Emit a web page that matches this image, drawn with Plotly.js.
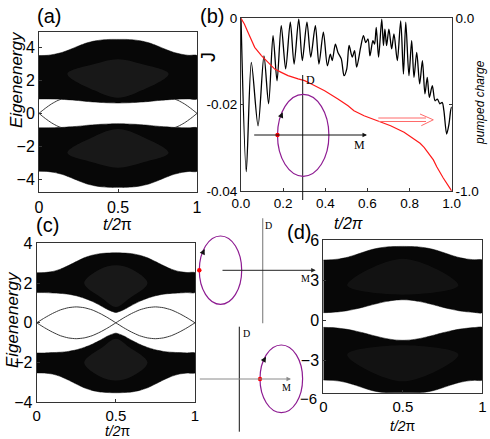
<!DOCTYPE html>
<html>
<head>
<meta charset="utf-8">
<script src="https://cdn.plot.ly/plotly-3.0.1.min.js"></script>
<style>html,body{margin:0;padding:0;background:#fff;}#chart{width:490px;height:439px;}</style>
</head>
<body>
<div id="chart"></div>
<script>
// ---------- data ----------
const tGrid = [0,0.05,0.1,0.15,0.2,0.25,0.3,0.35,0.4,0.45,0.5,0.55,0.6,0.65,0.7,0.75,0.8,0.85,0.9,0.95,1];

// panel (a) band edges
const aUpperTop = [3.52,3.53,3.6,3.72,3.9,4.1,4.28,4.4,4.47,4.5,4.5,4.5,4.47,4.4,4.28,4.1,3.9,3.72,3.6,3.53,3.52];
const aUpperBot = [0.88,0.88,0.87,0.85,0.82,0.78,0.73,0.69,0.66,0.64,0.63,0.64,0.66,0.69,0.73,0.78,0.82,0.85,0.87,0.88,0.88];
const aLowerTop = [-0.88,-0.88,-0.87,-0.85,-0.82,-0.78,-0.73,-0.69,-0.66,-0.64,-0.63,-0.64,-0.66,-0.69,-0.73,-0.78,-0.82,-0.85,-0.87,-0.88,-0.88];
const aLowerBot = [-3.52,-3.53,-3.6,-3.72,-3.9,-4.1,-4.28,-4.4,-4.47,-4.5,-4.5,-4.5,-4.47,-4.4,-4.28,-4.1,-3.9,-3.72,-3.6,-3.53,-3.52];
const aEdgeTL = [0,0.02,0.04,0.06,0.08,0.1,0.12,0.14];
const aEdgeTR = [1,0.98,0.96,0.94,0.92,0.9,0.88,0.86];
const aEdgeUp = [0,0.16,0.31,0.45,0.58,0.69,0.79,0.86];
const aEdgeDn = [0,-0.16,-0.31,-0.45,-0.58,-0.69,-0.79,-0.86];
// faint grey interior of the (a) bands
const aTexT = [0.18,0.35,0.5,0.65,0.82,0.65,0.5,0.35,0.18];
const aTexUp = [2.4,1.4,0.95,1.4,2.4,3.0,3.3,3.0,2.4];
const aTexDn = [-2.4,-1.4,-0.95,-1.4,-2.4,-3.0,-3.3,-3.0,-2.4];

// panel (b) current J and pumped charge
const jT = [0,0.025,0.049,0.081,0.109,0.131,0.152,0.171,0.191,0.212,0.234,0.252,0.274,0.291,0.313,0.331,0.353,0.370,0.391,0.410,0.424,0.433,0.448,0.460,0.476,0.489,0.502,0.513,0.528,0.539,0.549,0.568,0.581,0.592,0.603,0.612,0.626,0.634,0.642,0.653,0.668,0.676,0.683,0.691,0.702,0.715,0.726,0.742,0.758,0.771,0.782,0.797,0.810,0.821,0.834,0.848,0.861,0.873,0.884,0.894,0.908,0.921,0.932,0.944,0.955,0.963,0.976,0.987,0.995,1.0];
const jV = [0,-0.0355,-0.0102,-0.0249,-0.0087,-0.0198,-0.0040,-0.0145,-0.0017,-0.0117,-0.0009,-0.0106,-0.0002,-0.0098,-0.0009,-0.0090,-0.0017,-0.0106,-0.0032,-0.0110,-0.0083,-0.0098,-0.0060,-0.0079,-0.0094,-0.0133,-0.0117,-0.0063,-0.0090,-0.0075,-0.0113,-0.0067,-0.0040,-0.0056,-0.0048,-0.0087,-0.0052,-0.0060,-0.0021,-0.0090,-0.0002,-0.0063,-0.0025,-0.0063,-0.0025,-0.0071,-0.0036,-0.0098,-0.0006,-0.0129,-0.0009,-0.0133,-0.0052,-0.0137,-0.0079,-0.0152,-0.0098,-0.0175,-0.0137,-0.0183,-0.0156,-0.0191,-0.0187,-0.0198,-0.0195,-0.0214,-0.0268,-0.0245,-0.0214,-0.0205];
const qT = [0,0.016,0.033,0.065,0.097,0.128,0.16,0.191,0.223,0.271,0.302,0.334,0.397,0.46,0.508,0.536,0.584,0.647,0.71,0.774,0.821,0.85,0.869,0.897,0.913,0.929,0.96,1.0];
const qV = [0,-0.033,-0.081,-0.168,-0.216,-0.255,-0.294,-0.313,-0.332,-0.351,-0.361,-0.38,-0.419,-0.467,-0.506,-0.535,-0.564,-0.593,-0.622,-0.66,-0.699,-0.724,-0.747,-0.79,-0.82,-0.86,-0.925,-1.0];

// panel (c) band edges and edge states
const cUpperTop = [2.52,2.53,2.58,2.7,2.88,3.08,3.27,3.4,3.48,3.51,3.52,3.51,3.48,3.4,3.27,3.08,2.88,2.7,2.58,2.53,2.52];
const cUpperBot = [1.52,1.52,1.5,1.48,1.44,1.36,1.24,1.08,0.88,0.66,0.52,0.66,0.88,1.08,1.24,1.36,1.44,1.48,1.5,1.52,1.52];
const cLowerTop = [-1.52,-1.52,-1.5,-1.48,-1.44,-1.36,-1.24,-1.08,-0.88,-0.66,-0.52,-0.66,-0.88,-1.08,-1.24,-1.36,-1.44,-1.48,-1.5,-1.52,-1.52];
const cLowerBot = [-2.52,-2.53,-2.58,-2.7,-2.88,-3.08,-3.27,-3.4,-3.48,-3.51,-3.52,-3.51,-3.48,-3.4,-3.27,-3.08,-2.88,-2.7,-2.58,-2.53,-2.52];
const cEdge1 = [0,0.25,0.47,0.65,0.76,0.8,0.76,0.65,0.47,0.25,0,-0.25,-0.47,-0.65,-0.76,-0.8,-0.76,-0.65,-0.47,-0.25,0];
const cEdge2 = [0,-0.25,-0.47,-0.65,-0.76,-0.8,-0.76,-0.65,-0.47,-0.25,0,0.25,0.47,0.65,0.76,0.8,0.76,0.65,0.47,0.25,0];
const cTexT = [0.3,0.42,0.5,0.58,0.7,0.6,0.5,0.4,0.3];
const cTexUp = [2.0,1.2,0.8,1.2,2.0,2.7,2.9,2.7,2.0];
const cTexDn = [-2.0,-1.2,-0.8,-1.2,-2.0,-2.7,-2.9,-2.7,-2.0];

// panel (d) band edges
const dUpperTop = [4.5,4.52,4.58,4.7,4.88,5.08,5.27,5.4,5.48,5.51,5.52,5.51,5.48,5.4,5.27,5.08,4.88,4.7,4.58,4.52,4.5];
const dUpperBot = [0.55,0.57,0.62,0.7,0.82,0.96,1.12,1.27,1.4,1.49,1.52,1.49,1.4,1.27,1.12,0.96,0.82,0.7,0.62,0.57,0.55];
const dLowerTop = [-0.55,-0.57,-0.62,-0.7,-0.82,-0.96,-1.12,-1.27,-1.4,-1.49,-1.52,-1.49,-1.4,-1.27,-1.12,-0.96,-0.82,-0.7,-0.62,-0.57,-0.55];
const dLowerBot = [-4.5,-4.52,-4.58,-4.7,-4.88,-5.08,-5.27,-5.4,-5.48,-5.51,-5.52,-5.51,-5.48,-5.4,-5.27,-5.08,-4.88,-4.7,-4.58,-4.52,-4.5];
const dTexT = [0.15,0.5,0.85,0.5,0.15];
const dTexUp = [2.6,1.9,2.6,4.6,2.6];
const dTexDn = [-2.6,-1.9,-2.6,-4.6,-2.6];

// tick labels
const unitTicks = [0,0.5,1];
const unitTickText = ['0','0.5','1'];
const bTicks = [0,0.2,0.4,0.6,0.8,1.0];
const bTickText = ['0.0','0.2','0.4','0.6','0.8','1.0'];
const jTicks = [0,-0.02,-0.04];
const jTickText = ['0','-0.02','-0.04'];
const qTicks = [0,-0.5,-1];
const qTickText = ['0.0','','-1.0'];

// ---------- helpers ----------
const W = 490, H = 439;
const px = x => x / W;
const py = y => 1 - y / H;

function band(xa, ya, top, bot) {
  return {
    x: tGrid.concat(tGrid.slice().reverse()),
    y: top.concat(bot.slice().reverse()),
    xaxis: xa, yaxis: ya, type: 'scatter', mode: 'lines',
    fill: 'toself', fillcolor: '#070707',
    line: {color: '#000', width: 0.5, shape: 'spline', smoothing: 0.6}, hoverinfo: 'skip'
  };
}
function tex(xa, ya, x, y, alpha) {
  return {x: x, y: y, xaxis: xa, yaxis: ya, type: 'scatter', mode: 'lines',
    fill: 'toself', fillcolor: 'rgba(95,95,95,' + alpha + ')',
    line: {width: 0, shape: 'spline', smoothing: 1}, hoverinfo: 'skip'};
}
function edge(xa, ya, x, y) {
  return {x: x, y: y, xaxis: xa, yaxis: ya, type: 'scatter', mode: 'lines',
    line: {color: '#3a3a3a', width: 1, shape: 'spline', smoothing: 0.6}, hoverinfo: 'skip'};
}

const traces = [
  band('x','y',aUpperTop,aUpperBot), band('x','y',aLowerTop,aLowerBot),
  tex('x','y',aTexT,aTexUp,0.2), tex('x','y',aTexT,aTexDn,0.2),
  edge('x','y',aEdgeTL,aEdgeUp), edge('x','y',aEdgeTL,aEdgeDn),
  edge('x','y',aEdgeTR,aEdgeUp), edge('x','y',aEdgeTR,aEdgeDn),
  {x: qT, y: qV, xaxis: 'x2', yaxis: 'y5', type: 'scatter', mode: 'lines', line: {color: '#ff1a1a', width: 1.2}},
  {x: jT, y: jV, xaxis: 'x2', yaxis: 'y2', type: 'scatter', mode: 'lines', line: {color: '#000', width: 1.3, shape: 'spline', smoothing: 0.8}},
  band('x3','y3',cUpperTop,cUpperBot), band('x3','y3',cLowerTop,cLowerBot),
  tex('x3','y3',cTexT,cTexUp,0.2), tex('x3','y3',cTexT,cTexDn,0.2),
  edge('x3','y3',tGrid,cEdge1), edge('x3','y3',tGrid,cEdge2),
  band('x4','y4',dUpperTop,dUpperBot), band('x4','y4',dLowerTop,dLowerBot),
  tex('x4','y4',dTexT,dTexUp,0.12), tex('x4','y4',dTexT,dTexDn,0.12)
];

const axBase = {showgrid: false, zeroline: false, showline: true, mirror: true,
  linecolor: '#333', linewidth: 1, ticks: 'inside', ticklen: 3, tickcolor: '#333',
  tickfont: {size: 16, color: '#000'}, fixedrange: true};

const layout = {
  width: W, height: H, margin: {l: 0, r: 0, t: 0, b: 0},
  paper_bgcolor: '#fff', plot_bgcolor: '#fff', showlegend: false,
  font: {family: 'Liberation Sans, Arial, sans-serif', color: '#000'},
  xaxis: Object.assign({}, axBase, {domain: [px(39), px(197)], range: [0,1], tickvals: unitTicks, ticktext: unitTickText, anchor: 'y'}),
  yaxis: Object.assign({}, axBase, {domain: [py(192.3), py(32)], range: [-4.8,4.95], tickvals: [-4,-2,0,2,4], anchor: 'x'}),
  xaxis2: Object.assign({}, axBase, {domain: [px(241), px(451.7)], range: [0,1], tickvals: bTicks, ticktext: bTickText, anchor: 'y2', tickfont: {size: 13.5}}),
  yaxis2: Object.assign({}, axBase, {domain: [py(191), py(18.3)], range: [-0.04,0], tickvals: jTicks, ticktext: jTickText, anchor: 'x2', mirror: false, tickfont: {size: 13.5}}),
  yaxis5: Object.assign({}, axBase, {overlaying: 'y2', side: 'right', anchor: 'x2', range: [-1,0], tickvals: qTicks, ticktext: qTickText, mirror: false, tickfont: {size: 13.5}}),
  xaxis3: Object.assign({}, axBase, {domain: [px(36.7), px(195)], range: [0,1], tickvals: unitTicks, ticktext: unitTickText, anchor: 'y3', tickfont: {size: 15}}),
  yaxis3: Object.assign({}, axBase, {domain: [py(402.3), py(243.3)], range: [-4,4], tickvals: [-4,-2,0,2,4], anchor: 'x3'}),
  xaxis4: Object.assign({}, axBase, {domain: [px(323.3), px(482.3)], range: [0,1], tickvals: unitTicks, ticktext: unitTickText, anchor: 'y4', tickfont: {size: 15}}),
  yaxis4: Object.assign({}, axBase, {domain: [py(392.7), py(240)], range: [-5.45,6], tickvals: [-3,0,3,6], anchor: 'x4'}),
  shapes: [], annotations: []
};

function txt(x, y, text, size, opts) {
  layout.annotations.push(Object.assign({xref: 'paper', yref: 'paper', x: px(x), y: py(y),
    text: text, showarrow: false, xanchor: 'center', yanchor: 'middle',
    font: {size: size, color: '#000'}}, opts || {}));
}
function arrow(x1, y1, x0, y0, color, head, size) {
  layout.annotations.push({xref: 'paper', yref: 'paper', x: px(x1), y: py(y1),
    ax: x0 - x1, ay: y0 - y1, axref: 'pixel', ayref: 'pixel', text: '', showarrow: true,
    arrowhead: head, arrowsize: size, arrowwidth: 1, arrowcolor: color, standoff: 0, startstandoff: 0});
}
function line(x0, y0, x1, y1, color, w) {
  layout.shapes.push({type: 'line', xref: 'paper', yref: 'paper', x0: px(x0), y0: py(y0), x1: px(x1), y1: py(y1),
    line: {color: color, width: w || 1}});
}
function ellipse(cx, cy, rx, ry) {
  layout.shapes.push({type: 'circle', xref: 'paper', yref: 'paper', x0: px(cx - rx), x1: px(cx + rx),
    y0: py(cy + ry), y1: py(cy - ry), line: {color: '#8e1c92', width: 1.2}});
}
function dot(cx, cy) {
  layout.shapes.push({type: 'circle', xref: 'paper', yref: 'paper', x0: px(cx - 2.2), x1: px(cx + 2.2),
    y0: py(cy + 2.2), y1: py(cy - 2.2), fillcolor: '#ff0000', line: {color: '#ff0000', width: 0}});
}

// panel letters and titles
const serif = {family: 'Liberation Serif, DejaVu Serif, serif'};
txt(49, 16, '(a)', 20); txt(212, 16, '(b)', 20); txt(47, 225, '(c)', 20); txt(299, 232, '(d)', 20);
txt(16, 80, '<i>Eigenenergy</i>', 17, {textangle: -90});
txt(12, 320, '<i>Eigenenergy</i>', 17, {textangle: -90});
txt(208, 57, 'J', 20, {textangle: -90});
txt(480, 103, '<i>pumped charge</i>', 12, {textangle: -90});
txt(117, 224, '<i>t/2</i>π', 16);
txt(348, 223, '<i>t/2π</i>', 16);
txt(118, 431, '<i>t/2</i>π', 14);
txt(403, 426, '<i>t/2</i>π', 14);
txt(308, 398, '\u22126', 15);

// inset in (b)
line(302.7, 75, 302.7, 200, '#111', 1);
arrow(367, 135, 252.7, 135, '#111', 2, 0.9);
ellipse(303.2, 135.3, 25.7, 41);
dot(277.5, 135);
arrow(282.7, 112.3, 280.2, 118.3, '#111', 2, 1.1);
txt(310, 80.5, 'D', 12, {font: Object.assign({size: 12, color: '#000'}, serif)});
txt(359, 145.5, 'M', 12, {font: Object.assign({size: 12, color: '#000'}, serif)});
// hollow red arrow in (b)
line(378.3, 118, 426, 118, '#ff6a6a', 1);
line(378.3, 121.5, 426, 121.5, '#ff6a6a', 1);
line(420, 114, 433.3, 119.8, '#ff6a6a', 1);
line(421.3, 125.7, 433.3, 119.8, '#ff6a6a', 1);

// inset between (c) and (d), top
line(262.7, 218.3, 262.7, 323.3, '#8a8a8a', 1.2);
arrow(315.7, 270.3, 221, 270.3, '#222', 2, 0.9);
ellipse(220.5, 270.2, 21.2, 34.2);
dot(199.3, 270.3);
arrow(204.7, 249, 202, 254.5, '#111', 2, 1.1);
txt(268.5, 225, 'D', 10, {font: Object.assign({size: 10, color: '#000'}, serif)});
txt(305, 278, 'M', 10, {font: Object.assign({size: 10, color: '#000'}, serif)});

// inset between (c) and (d), bottom
line(239.3, 326.7, 239.3, 431.7, '#111', 1);
arrow(291, 379, 198.3, 379, '#8a8a8a', 2, 0.9);
ellipse(281.3, 378.8, 21.3, 33.8);
dot(260, 379);
arrow(266, 356.7, 262.5, 362.7, '#111', 2, 1.1);
txt(246.3, 333.3, 'D', 10, {font: Object.assign({size: 10, color: '#000'}, serif)});
txt(286, 387.3, 'M', 10, {font: Object.assign({size: 10, color: '#000'}, serif)});

Plotly.newPlot('chart', traces, layout, {displayModeBar: false, staticPlot: true});
</script>
</body>
</html>
